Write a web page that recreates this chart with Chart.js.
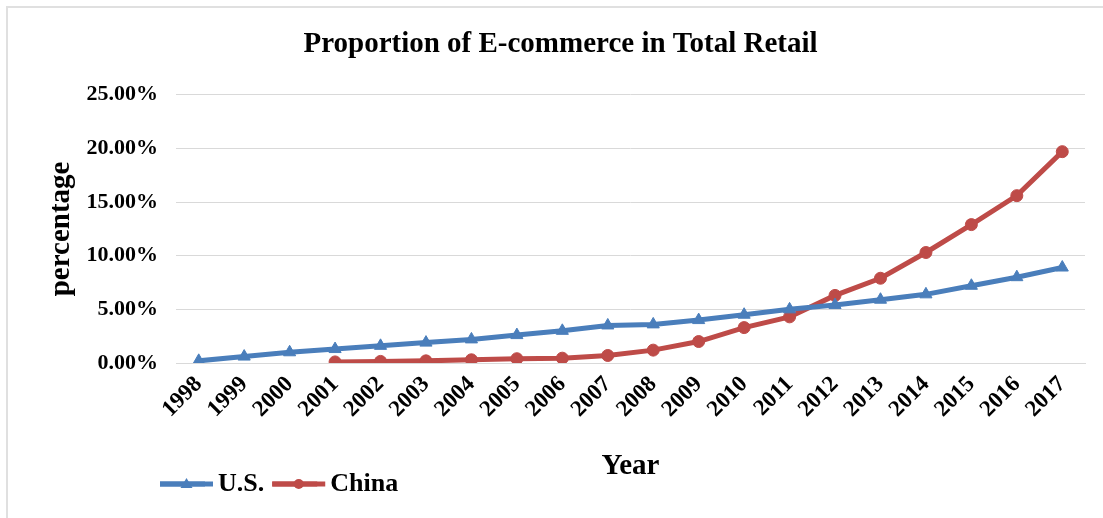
<!DOCTYPE html>
<html>
<head>
<meta charset="utf-8">
<script src="https://cdn.jsdelivr.net/npm/chart.js@4/dist/chart.umd.min.js"></script>
<style>
  html, body { margin: 0; padding: 0; background: #fff; }
  #wrap { width: 1103px; height: 518px; position: relative; }
</style>
</head>
<body>
<div id="wrap"><canvas id="chart"></canvas></div>
<script>
const years = ['1998', '1999', '2000', '2001', '2002', '2003', '2004', '2005', '2006', '2007',
  '2008', '2009', '2010', '2011', '2012', '2013', '2014', '2015', '2016', '2017'];
const usShare = [0.2, 0.6, 1.0, 1.3, 1.6, 1.9, 2.2, 2.6, 3.0, 3.5,
  3.6, 4.0, 4.5, 5.0, 5.4, 5.9, 6.4, 7.2, 8.0, 8.9];
const chinaShare = [null, null, null, 0.1, 0.15, 0.2, 0.3, 0.4, 0.45, 0.7,
  1.2, 2.0, 3.3, 4.3, 6.3, 7.9, 10.3, 12.9, 15.6, 19.7];
const yTicks = [0, 5, 10, 15, 20, 25];

const blue = '#4a7ebb';
const red = '#be4b48';
const serif = "'Liberation Serif', 'Times New Roman', serif";

// thin frame on the top and left edges
const framePlugin = {
  id: 'frame',
  beforeDraw(chart) {
    const c = chart.ctx;
    c.save();
    c.strokeStyle = '#e0e0e0';
    c.lineWidth = 2;
    c.beginPath();
    c.moveTo(7, 518);
    c.lineTo(7, 7);
    c.lineTo(1103, 7);
    c.stroke();
    c.restore();
  }
};

// move the legend, lengthen its lines and put a marker on each
const legendPlugin = {
  id: 'legendMarks',
  afterLayout(chart) {
    if (chart.legend) chart.legend.left = 152;
  },
  afterDraw(chart) {
    const lg = chart.legend;
    if (!lg || !lg.legendHitBoxes) return;
    const c = chart.ctx;
    const lineW = 53;
    const fs = lg.options.labels.font.size;
    lg.legendHitBoxes.forEach((hb, i) => {
      const x = hb.left + lineW / 2;
      const y = hb.top + fs / 2;
      c.save();
      c.fillStyle = i === 0 ? blue : red;
      c.fillRect(hb.left, y - 2.5, lineW, 5);
      c.beginPath();
      if (i === 0) {
        c.moveTo(x, y - 6);
        c.lineTo(x + 6, y + 4);
        c.lineTo(x - 6, y + 4);
        c.closePath();
      } else {
        c.arc(x, y, 5, 0, Math.PI * 2);
      }
      c.fill();
      c.restore();
    });
  }
};

new Chart(document.getElementById('chart'), {
  type: 'line',
  data: {
    labels: years,
    datasets: [
      {
        label: 'U.S.',
        data: usShare,
        borderColor: blue,
        backgroundColor: blue,
        borderWidth: 5,
        pointStyle: 'triangle',
        pointRadius: 7,
        pointBackgroundColor: blue,
        pointBorderColor: blue,
        pointBorderWidth: 1,
        tension: 0
      },
      {
        label: 'China',
        data: chinaShare,
        borderColor: red,
        backgroundColor: red,
        borderWidth: 5,
        pointStyle: 'circle',
        pointRadius: 6,
        pointBackgroundColor: red,
        pointBorderColor: red,
        pointBorderWidth: 1,
        tension: 0
      }
    ]
  },
  options: {
    responsive: true,
    maintainAspectRatio: false,
    animation: false,
    layout: { padding: { left: 36, right: 18, top: 5, bottom: 11 } },
    plugins: {
      title: {
        display: true,
        text: 'Proportion of E-commerce in Total Retail',
        color: '#000',
        font: { family: serif, size: 29, weight: 'bold' },
        padding: { top: 22, bottom: 33 }
      },
      legend: {
        position: 'bottom',
        align: 'start',
        labels: {
          color: '#000',
          font: { family: serif, size: 26, weight: 'bold' },
          boxWidth: 45,
          boxHeight: 5,
          padding: 8,
          generateLabels(chart) {
            return Chart.defaults.plugins.legend.labels.generateLabels(chart)
              .map(l => Object.assign(l, { lineWidth: 0 }));
          }
        }
      },
      tooltip: { enabled: false }
    },
    scales: {
      x: {
        offset: true,
        grid: { display: false, drawTicks: false },
        border: { color: '#d9d9d9', width: 1 },
        ticks: {
          color: '#000',
          font: { family: serif, size: 23, weight: 'bold' },
          maxRotation: 45,
          minRotation: 45,
          padding: 8
        },
        title: {
          display: true,
          text: 'Year',
          color: '#000',
          font: { family: serif, size: 29, weight: 'bold' },
          padding: { top: 0, bottom: -21 }
        },
        afterFit(scale) { scale.height = 100; }
      },
      y: {
        min: 0,
        max: 25,
        afterBuildTicks(scale) { scale.ticks = yTicks.map(v => ({ value: v })); },
        grid: { color: '#d9d9d9', drawTicks: false },
        border: { display: false },
        ticks: {
          color: '#000',
          font: { family: serif, size: 22, weight: 'bold' },
          padding: 18,
          callback: v => v.toFixed(2) + '%'
        },
        title: {
          display: true,
          text: 'percentage',
          color: '#000',
          font: { family: serif, size: 29, weight: 'bold' },
          padding: { top: 8, bottom: 0 }
        },
        afterFit(scale) { scale.width = 140; }
      }
    }
  },
  plugins: [framePlugin, legendPlugin]
});
</script>
</body>
</html>
